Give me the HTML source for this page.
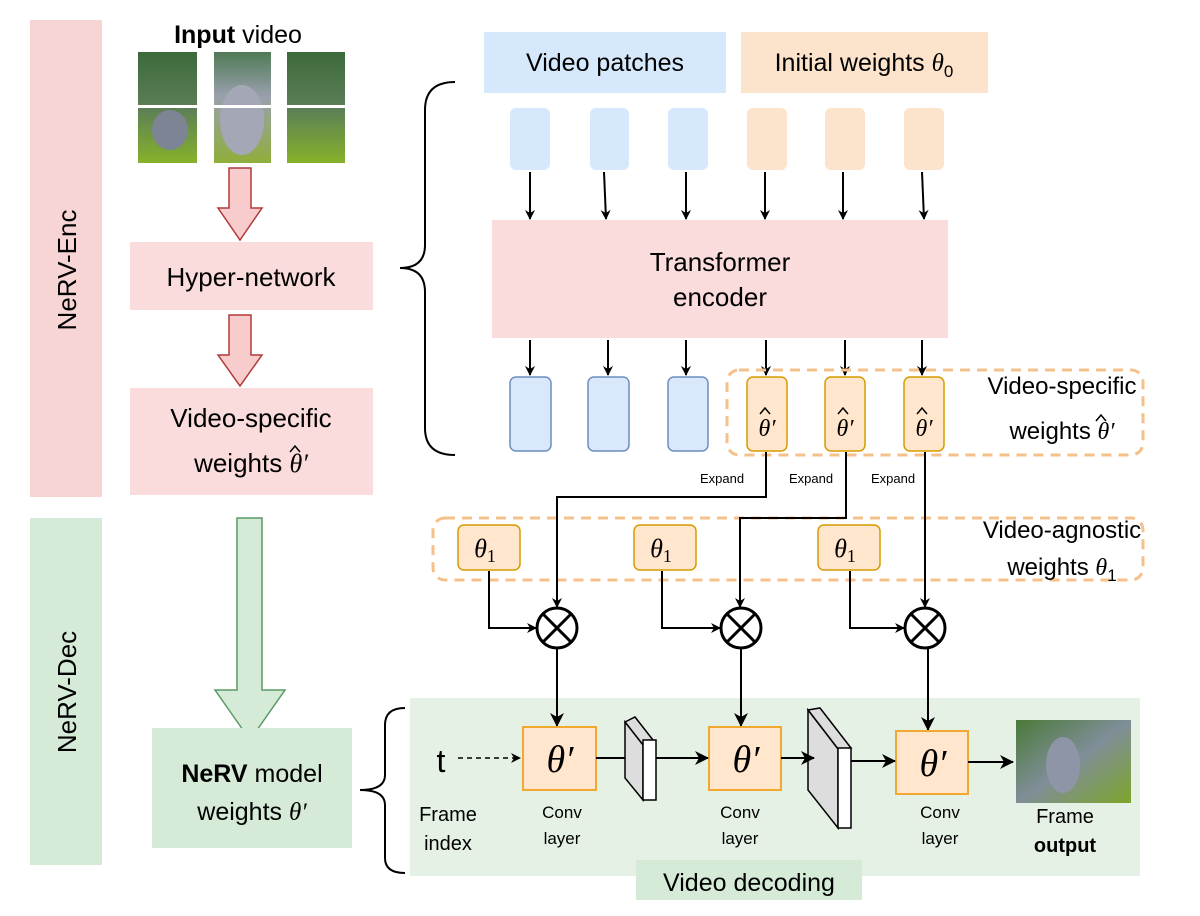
<!DOCTYPE html>
<html><head><meta charset="utf-8"><style>
body{margin:0;background:#fff}
svg{display:block;font-family:"Liberation Sans",sans-serif}
.m{font-family:"Liberation Serif",serif;font-style:italic}
</style></head><body>
<svg width="1200" height="916" viewBox="0 0 1200 916" xmlns="http://www.w3.org/2000/svg">
<defs>
<marker id="a" markerWidth="10" markerHeight="10" refX="9" refY="5" orient="auto" markerUnits="userSpaceOnUse"><path d="M0,0 L10,5 L0,10 L3,5 z" fill="#000"/></marker>
<marker id="b" markerWidth="14" markerHeight="14" refX="13" refY="7" orient="auto" markerUnits="userSpaceOnUse"><path d="M0,0 L14,7 L0,14 L4,7 z" fill="#000"/></marker>
<linearGradient id="g1" x1="0" y1="0" x2="0" y2="1"><stop offset="0" stop-color="#3d6a3a"/><stop offset="0.5" stop-color="#5b7e58"/><stop offset="1" stop-color="#86b22a"/></linearGradient>
<linearGradient id="g2" x1="0" y1="0" x2="0" y2="1"><stop offset="0" stop-color="#4f7a55"/><stop offset="0.4" stop-color="#9aa0ad"/><stop offset="1" stop-color="#8fae3a"/></linearGradient>
<linearGradient id="g3" x1="0" y1="0" x2="1" y2="1"><stop offset="0" stop-color="#4a7a38"/><stop offset="0.5" stop-color="#7f8e98"/><stop offset="1" stop-color="#7ea52a"/></linearGradient>
</defs>

<rect x="30" y="20" width="72" height="477" fill="#f8d5d5"/>
<text transform="translate(76,270) rotate(-90)" text-anchor="middle" font-size="26">NeRV-Enc</text>
<rect x="30" y="518" width="72" height="347" fill="#d5ebd8"/>
<text transform="translate(76,692) rotate(-90)" text-anchor="middle" font-size="26">NeRV-Dec</text>

<text x="238" y="43" text-anchor="middle" font-size="25"><tspan font-weight="bold">Input</tspan> video</text>
<rect x="138" y="52" width="59" height="111" fill="url(#g1)"/>
<rect x="214" y="52" width="57" height="111" fill="url(#g2)"/>
<rect x="287" y="52" width="58" height="111" fill="url(#g1)"/>
<ellipse cx="242" cy="120" rx="22" ry="35" fill="#a4a8b6"/>
<ellipse cx="170" cy="130" rx="18" ry="20" fill="#7d8494"/>
<rect x="130" y="105" width="220" height="3" fill="#fff"/>

<path d="M229,168 H251 V208 H262 L240,240 L218,208 H229 Z" fill="#f8cccc" stroke="#b03a3a" stroke-width="1.5"/>
<path d="M229,315 H251 V355 H262 L240,386 L218,355 H229 Z" fill="#f8cccc" stroke="#b03a3a" stroke-width="1.5"/>

<rect x="130" y="242" width="243" height="68" fill="#fbdcdc"/>
<text x="251" y="286" text-anchor="middle" font-size="26">Hyper-network</text>
<rect x="130" y="388" width="243" height="107" fill="#fbdcdc"/>
<text x="251" y="427" text-anchor="middle" font-size="26">Video-specific</text>
<text x="251" y="472" text-anchor="middle" font-size="26">weights <tspan class="m">θ′</tspan></text>
<path d="M290,452 L295,446 L300,452" fill="none" stroke="#000" stroke-width="1.5"/>

<path d="M237,518 H262 V690 H285 L250,740 L215,690 H237 Z" fill="#d5ebd8" stroke="#5a9a64" stroke-width="1.5"/>
<rect x="152" y="728" width="200" height="120" fill="#d5ebd8"/>
<text x="252" y="782" text-anchor="middle" font-size="25"><tspan font-weight="bold">NeRV</tspan> model</text>
<text x="252" y="820" text-anchor="middle" font-size="25">weights <tspan class="m">θ′</tspan></text>

<path d="M455,82 Q425,82 425,110 V245 Q425,268 400,268 Q425,268 425,292 V428 Q425,455 455,455" fill="none" stroke="#000" stroke-width="2"/>
<path d="M405,708 Q385,708 385,725 V775 Q385,790 360,790 Q385,790 385,805 V858 Q385,873 405,873" fill="none" stroke="#000" stroke-width="2"/>

<rect x="484" y="32" width="242" height="61" fill="#d6e8fb"/>
<text x="605" y="71" text-anchor="middle" font-size="25">Video patches</text>
<rect x="741" y="32" width="247" height="61" fill="#fbe3cc"/>
<text x="864" y="71" text-anchor="middle" font-size="25">Initial weights <tspan class="m">θ</tspan><tspan font-size="17" dy="6">0</tspan></text>

<g fill="#d6e8fb">
<rect x="510" y="108" width="40" height="62" rx="6"/><rect x="590" y="108" width="39" height="62" rx="6"/><rect x="668" y="108" width="40" height="62" rx="6"/>
</g>
<g fill="#fbe3cc">
<rect x="747" y="108" width="40" height="62" rx="6"/><rect x="825" y="108" width="40" height="62" rx="6"/><rect x="904" y="108" width="40" height="62" rx="6"/>
</g>
<g stroke="#000" stroke-width="2" marker-end="url(#a)">
<line x1="530" y1="172" x2="530" y2="219"/><line x1="604" y1="172" x2="606" y2="219"/><line x1="686" y1="172" x2="686" y2="219"/>
<line x1="765" y1="172" x2="765" y2="219"/><line x1="843" y1="172" x2="843" y2="219"/><line x1="922" y1="172" x2="924" y2="219"/>
<line x1="530" y1="340" x2="530" y2="375"/><line x1="608" y1="340" x2="608" y2="375"/><line x1="686" y1="340" x2="686" y2="375"/>
<line x1="766" y1="340" x2="766" y2="375"/><line x1="845" y1="340" x2="845" y2="375"/><line x1="922" y1="340" x2="922" y2="375"/>
</g>

<rect x="492" y="220" width="456" height="118" fill="#fbdcdc"/>
<text x="720" y="271" text-anchor="middle" font-size="26">Transformer</text>
<text x="720" y="306" text-anchor="middle" font-size="26">encoder</text>

<rect x="727" y="370" width="416" height="85" rx="12" fill="none" stroke="#f6c08a" stroke-width="3" stroke-dasharray="10,7"/>
<g fill="#dae8fc" stroke="#6c8ebf" stroke-width="1.5">
<rect x="510" y="377" width="41" height="74" rx="6"/><rect x="588" y="377" width="41" height="74" rx="6"/><rect x="668" y="377" width="40" height="74" rx="6"/>
</g>
<g fill="#ffe6cc" stroke="#d79b00" stroke-width="1.5">
<rect x="747" y="377" width="40" height="74" rx="6"/><rect x="825" y="377" width="40" height="74" rx="6"/><rect x="904" y="377" width="40" height="74" rx="6"/>
</g>
<g class="m" font-size="24" text-anchor="middle">
<text x="767" y="436">θ′</text><text x="845" y="436">θ′</text><text x="924" y="436">θ′</text>
</g>
<g fill="none" stroke="#000" stroke-width="1.5">
<path d="M760,414 L765,408 L770,414"/><path d="M838,414 L843,408 L848,414"/><path d="M917,414 L922,408 L927,414"/>
<path d="M1096,421 L1101,415 L1106,421"/>
</g>
<text x="1062" y="394" text-anchor="middle" font-size="24">Video-specific</text>
<text x="1062" y="439" text-anchor="middle" font-size="24">weights <tspan class="m">θ′</tspan></text>

<g font-size="13" text-anchor="middle"><text x="722" y="483">Expand</text><text x="811" y="483">Expand</text><text x="893" y="483">Expand</text></g>

<rect x="433" y="518" width="710" height="62" rx="12" fill="none" stroke="#f6c08a" stroke-width="3" stroke-dasharray="10,7"/>
<g fill="#ffe6cc" stroke="#d79b00" stroke-width="1.5">
<rect x="458" y="525" width="62" height="45" rx="6"/><rect x="634" y="525" width="62" height="45" rx="6"/><rect x="818" y="525" width="62" height="45" rx="6"/>
</g>
<g class="m" font-size="26" text-anchor="middle">
<text x="485" y="557">θ<tspan font-size="18" dy="5" font-style="normal">1</tspan></text>
<text x="661" y="557">θ<tspan font-size="18" dy="5" font-style="normal">1</tspan></text>
<text x="845" y="557">θ<tspan font-size="18" dy="5" font-style="normal">1</tspan></text>
</g>
<text x="1062" y="538" text-anchor="middle" font-size="24">Video-agnostic</text>
<text x="1062" y="575" text-anchor="middle" font-size="24">weights <tspan class="m">θ</tspan><tspan font-size="17" dy="6">1</tspan></text>

<g fill="none" stroke="#000" stroke-width="2" marker-end="url(#a)">
<polyline points="766,452 766,497 557,497 557,607"/>
<polyline points="846,452 846,518 740,518 740,607"/>
<polyline points="925,452 925,607"/>
<polyline points="489,571 489,628 536,628"/>
<polyline points="662,571 662,628 720,628"/>
<polyline points="850,571 850,628 904,628"/>
</g>
<g fill="#fff" stroke="#000" stroke-width="3">
<circle cx="557" cy="628" r="20"/><circle cx="741" cy="628" r="20"/><circle cx="925" cy="628" r="20"/>
</g>
<g stroke="#000" stroke-width="3">
<path d="M543,614 L571,642 M571,614 L543,642"/><path d="M727,614 L755,642 M755,614 L727,642"/><path d="M911,614 L939,642 M939,614 L911,642"/>
</g>

<rect x="410" y="698" width="730" height="178" fill="#e6f1e6"/>
<rect x="636" y="860" width="226" height="40" fill="#d5ebd8"/>
<text x="749" y="891" text-anchor="middle" font-size="25">Video decoding</text>

<g stroke="#000" stroke-width="2" marker-end="url(#b)">
<line x1="557" y1="648" x2="557" y2="726"/><line x1="741" y1="648" x2="741" y2="726"/><line x1="928" y1="648" x2="928" y2="730"/>
</g>
<text x="441" y="772" text-anchor="middle" font-size="32">t</text>
<line x1="458" y1="758" x2="520" y2="758" stroke="#000" stroke-width="1.5" stroke-dasharray="5,4" marker-end="url(#a)"/>

<g fill="#ffe6cc" stroke="#f0a830" stroke-width="2">
<rect x="523" y="727" width="73" height="63"/><rect x="709" y="727" width="72" height="63"/><rect x="896" y="731" width="72" height="63"/>
</g>
<g class="m" font-size="38" text-anchor="middle">
<text x="560" y="772">θ′</text><text x="746" y="772">θ′</text><text x="933" y="776">θ′</text>
</g>

<path d="M625,722 L635,717 L653,740 L643,745 Z" fill="#ddd" stroke="#000" stroke-width="1.5"/>
<path d="M625,722 L643,745 L643,800 L625,778 Z" fill="#ddd" stroke="#000" stroke-width="1.5"/>
<rect x="643" y="740" width="13" height="60" fill="#fff" stroke="#000" stroke-width="1.5"/>
<path d="M808,710 L820,708 L851,748 L838,749 Z" fill="#ddd" stroke="#000" stroke-width="1.5"/>
<path d="M808,710 L838,749 L838,828 L808,790 Z" fill="#ddd" stroke="#000" stroke-width="1.5"/>
<rect x="838" y="748" width="13" height="80" fill="#fff" stroke="#000" stroke-width="1.5"/>

<g stroke="#000" stroke-width="2">
<line x1="596" y1="758" x2="625" y2="758"/>
<line x1="656" y1="758" x2="708" y2="758" marker-end="url(#b)"/>
<line x1="781" y1="758" x2="814" y2="758" marker-end="url(#b)"/>
<line x1="851" y1="761" x2="895" y2="761" marker-end="url(#b)"/>
<line x1="968" y1="762" x2="1013" y2="762" marker-end="url(#b)"/>
</g>
<rect x="1016" y="720" width="115" height="83" fill="url(#g3)"/>
<ellipse cx="1063" cy="765" rx="17" ry="28" fill="#8e95a6"/>

<g font-size="20" text-anchor="middle">
<text x="448" y="821">Frame</text><text x="448" y="850">index</text>
<text x="562" y="818" font-size="17">Conv</text><text x="562" y="844" font-size="17">layer</text>
<text x="740" y="818" font-size="17">Conv</text><text x="740" y="844" font-size="17">layer</text>
<text x="940" y="818" font-size="17">Conv</text><text x="940" y="844" font-size="17">layer</text>
<text x="1065" y="823">Frame</text><text x="1065" y="852" font-weight="bold">output</text>
</g>
</svg>
</body></html>
